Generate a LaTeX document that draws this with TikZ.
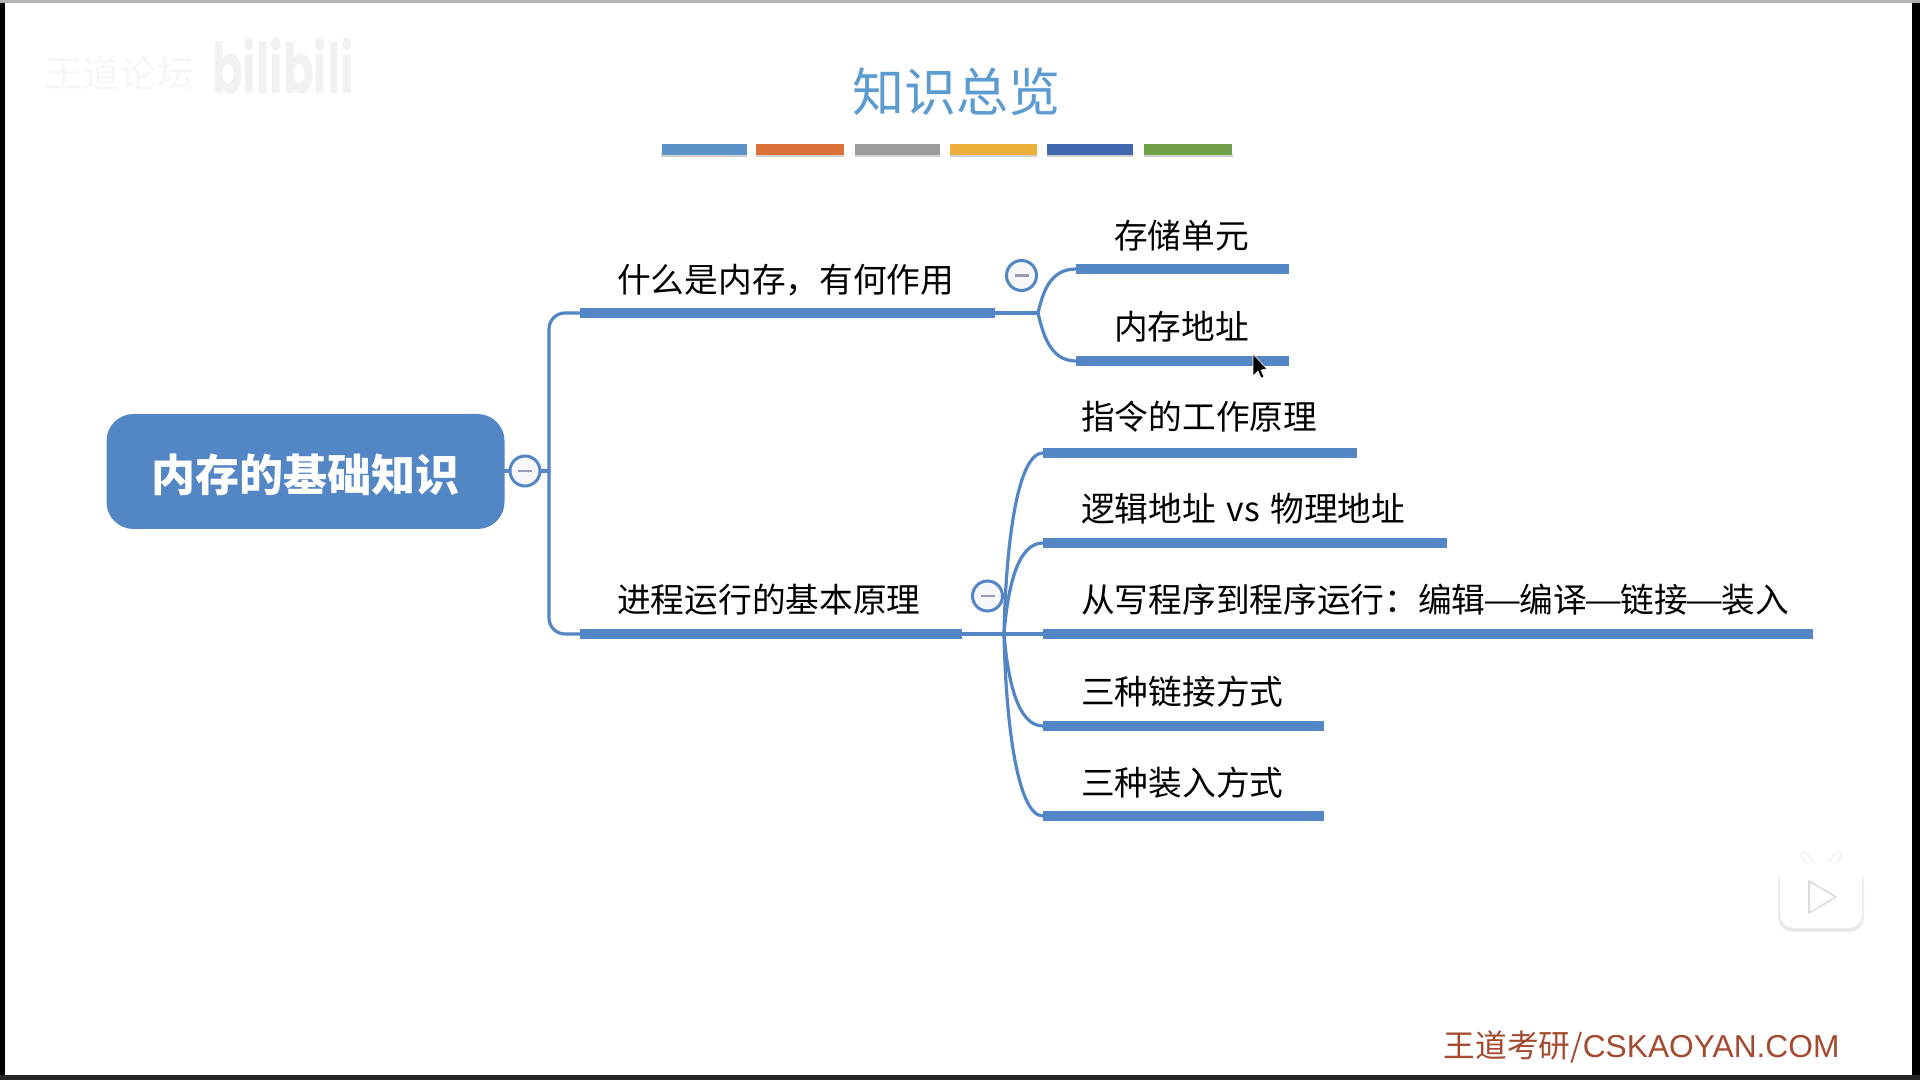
\documentclass[tikz,border=0pt]{standalone}
\usepackage{fontspec}
\setmainfont{Noto Sans CJK SC}
\newfontfamily\latinf{Liberation Sans}
\newfontfamily\bilif{Poppins}
\definecolor{mapblue}{HTML}{5286C4}
\definecolor{titleblue}{HTML}{5B9BD0}
\definecolor{brand}{HTML}{A34A30}
\definecolor{cbar1}{HTML}{5B93C8}
\definecolor{cbar2}{HTML}{DB7038}
\definecolor{cbar3}{HTML}{9B9B9B}
\definecolor{cbar4}{HTML}{EDAF3A}
\definecolor{cbar5}{HTML}{3F67AE}
\definecolor{cbar6}{HTML}{70A14A}
\definecolor{togglefill}{HTML}{F7F7FA}
\definecolor{markline}{HTML}{9A9AB8}
\definecolor{wm}{HTML}{F1F1F1}
\definecolor{wmlight}{HTML}{F6F6F6}
\tikzset{
  x=1pt,y=1pt,
  thinlink/.style={draw=mapblue,line width=3.2pt,line cap=round},
  barnode/.style={fill=mapblue,inner sep=0pt,minimum height=10pt,anchor=west},
  labeltxt/.style={anchor=west,inner sep=0pt,font=\fontsize{33.7}{36}\selectfont,text=black},
  toggle/.style={circle,draw=mapblue,line width=3pt,fill=togglefill,minimum size=30pt,inner sep=0pt},
  swatch/.style={inner sep=0pt,minimum height=11pt,anchor=west},
}
\usetikzlibrary{calc}
\newcommand{\tgmark}[1]{\draw[markline,line width=2.4pt] ($(#1)+(-7,0)$) -- ($(#1)+(7,0)$);}
\newcommand{\longdash}{\makebox[33.7pt]{\scalebox{1.28}[1]{—}}}
\begin{document}
\begin{tikzpicture}
\useasboundingbox (0,0) rectangle (1920,1080);
\fill[white] (0,0) rectangle (1920,1080);
% screen edges
\fill[black] (0,0) rectangle (5,1080);
\fill[black] (1912,0) rectangle (1920,1080);
\fill[black!85] (0,0) rectangle (1920,5);
\fill[black!30] (0,1077) rectangle (1920,1080);
% watermarks
\node[anchor=center,text=wmlight,font=\fontsize{37.5}{40}\selectfont,inner sep=0pt] (wma) at (120,1007) {王道论坛};
\node[anchor=center,text=wm,font=\bilif\bfseries\fontsize{58}{60}\selectfont,inner sep=0pt,xscale=0.78,yscale=1.2] (wmb) at (283,1014) {bilibili};
% title
\node[text=titleblue,font=\fontsize{52}{56}\selectfont,inner sep=0pt] (title) at (956,988) {知识总览};
\fill[black!18] (661,923) rectangle (1233,926);
\node[swatch,fill=cbar1,minimum width=85pt] (s1) at (662,930) {};
\node[swatch,fill=cbar2,minimum width=88pt] (s2) at (756,930) {};
\node[swatch,fill=cbar3,minimum width=85pt] (s3) at (855,930) {};
\node[swatch,fill=cbar4,minimum width=87pt] (s4) at (950,930) {};
\node[swatch,fill=cbar5,minimum width=86pt] (s5) at (1047,930) {};
\node[swatch,fill=cbar6,minimum width=88pt] (s6) at (1144,930) {};
\fill[white] (747,923) rectangle (756,926);
\fill[white] (844,923) rectangle (855,926);
\fill[white] (940,923) rectangle (950,926);
\fill[white] (1037,923) rectangle (1047,926);
\fill[white] (1133,923) rectangle (1144,926);
% root
\node[fill=mapblue,rounded corners=27pt,minimum width=398pt,minimum height=115pt,inner sep=0pt,text=white,font=\bfseries\fontsize{44}{46}\selectfont] (root) at (305.5,608.5) {\raisebox{-20pt}[0pt][0pt]{内存的基础知识}};
% branch bars
\node[barnode,minimum width=415pt] (b1) at (580,767) {};
\node[barnode,minimum width=382pt] (b2) at (580,446) {};
\node[barnode,minimum width=213pt] (a1) at (1076,811) {};
\node[barnode,minimum width=213pt] (a2) at (1076,719) {};
\node[barnode,minimum width=314pt] (c1) at (1043,627) {};
\node[barnode,minimum width=404pt] (c2) at (1043,537) {};
\node[barnode,minimum width=770pt] (c3) at (1043,446) {};
\node[barnode,minimum width=281pt] (c4) at (1043,354) {};
\node[barnode,minimum width=281pt] (c5) at (1043,264) {};
\coordinate (vt) at (549,767);
\coordinate (vb) at (549,446);
\coordinate (vm) at (549,609);
\coordinate (f1) at (1038,767);
\coordinate (f2) at (1004,446);
% connectors
\draw[thinlink,rounded corners=16pt] (b1.west) -- (vt) -- (vb) -- (b2.west);
\draw[thinlink] (root.east |- vm) -- (vm);
\draw[thinlink] (b1.east) -- (f1);
\draw[thinlink] (b2.east) -- (c3.west);
\draw[thinlink] (f1) .. controls (1043,788) and (1050,811) .. (a1.west);
\draw[thinlink] (f1) .. controls (1043,746) and (1050,719) .. (a2.west);
\draw[thinlink] (f2) .. controls (1006,540) and (1018,627) .. (c1.west);
\draw[thinlink] (f2) .. controls (1008,495) and (1018,537) .. (c2.west);
\draw[thinlink] (f2) .. controls (1008,398) and (1018,354) .. (c4.west);
\draw[thinlink] (f2) .. controls (1006,353) and (1018,264) .. (c5.west);
% toggles
\node[toggle] (t0) at (525,609) {};
\node[toggle] (t1) at (1021.5,804.5) {};
\node[toggle] (t2) at (987.5,484) {};
\tgmark{t0}\tgmark{t1}\tgmark{t2}
% labels
\node[labeltxt] (l1) at (617,800) {什么是内存，有何作用};
\node[labeltxt] (l2) at (617,480) {进程运行的基本原理};
\node[labeltxt] (la1) at (1114,844) {存储单元};
\node[labeltxt] (la2) at (1114,753) {内存地址};
\node[labeltxt] (lc1) at (1081,663) {指令的工作原理};
\node[labeltxt] (lc2) at (1081,571) {逻辑地址\hspace{3pt} vs \hspace{3pt}物理地址};
\node[labeltxt] (lc3) at (1081,480) {从写程序到程序运行：编辑\longdash 编译\longdash 链接\longdash 装入};
\node[labeltxt] (lc4) at (1081,388) {三种链接方式};
\node[labeltxt] (lc5) at (1081,297) {三种装入方式};
% cursor
\fill[black,draw=white,line width=0.6pt] (1253,726) -- (1253,704) -- (1258,709) -- (1261,702) -- (1264,703) -- (1261,710) -- (1267,711) -- cycle;
% tv icon
\draw[black!10,line width=7pt,line cap=round] (1804,225) -- (1814,211);
\draw[black!10,line width=7pt,line cap=round] (1838,225) -- (1828,211);
\draw[white,line width=5.5pt,line cap=round] (1804,225) -- (1814,211);
\draw[white,line width=5.5pt,line cap=round] (1838,225) -- (1828,211);
\fill[black!5,rounded corners=14pt] (1778,148) rectangle (1864,212);
\fill[black!9,rounded corners=13pt] (1779,149) rectangle (1863,212);
\fill[white,rounded corners=13pt] (1780,152) rectangle (1862,217);
\draw[black!14,fill=white,line width=1.6pt,line join=round] (1809,199) -- (1836,183) -- (1809,167) -- cycle;
% footer
\node[text=brand,font=\fontsize{31.7}{36}\selectfont,inner sep=0pt] (foot) at (1641.5,33) {王道考研/{\latinf CSKAOYAN.COM}};
\end{tikzpicture}
\end{document}
